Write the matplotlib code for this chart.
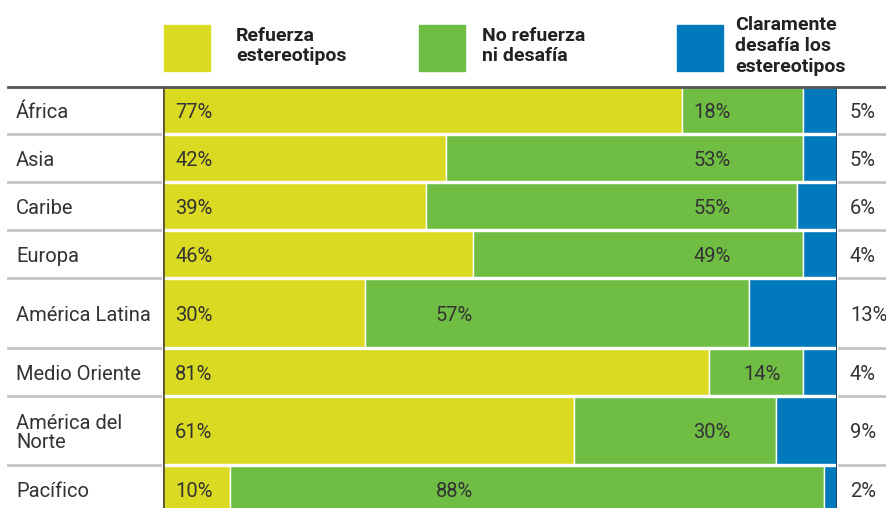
import matplotlib.pyplot as plt
from matplotlib import transforms

# data
regions = ['África', 'Asia', 'Caribe', 'Europa', 'América Latina',
           'Medio Oriente', 'América del\nNorte', 'Pacífico']
refuerza = [77, 42, 39, 46, 30, 81, 61, 10]
neutral = [18, 53, 55, 49, 57, 14, 30, 88]
desafia = [5, 5, 6, 4, 13, 4, 9, 2]
legend_labels = ['Refuerza\nestereotipos', 'No refuerza\nni desafía',
                 'Claramente\ndesafía los\nestereotipos']

# layout (row heights in pixels, where the green labels sit in %)
row_heights = [48, 48, 48, 48, 70, 48, 69, 48]
green_label_pos = [81.5, 81.5, 81.5, 81.5, 43.2, 88.9, 81.5, 43.2]

c_yel = '#d9da21'
c_grn = '#70bd44'
c_blu = '#007abc'
txt = '#333333'
W, H = 886, 508

plt.rcParams['font.family'] = ['Roboto', 'DejaVu Sans']

fig = plt.figure(figsize=(W / 100, H / 100), dpi=100)
ax = fig.add_axes([163 / W, 0, 674 / W, 1 - 86 / H])

tops = []
t = 0
for h in row_heights:
    tops.append(t)
    t += h
centers = [tp + h / 2 for tp, h in zip(tops, row_heights)]
bar_h = [h - 2 for h in row_heights]
left2 = [a for a in refuerza]
left3 = [a + b for a, b in zip(refuerza, neutral)]
# blue segment fills the rest of the row (rounded shares don't always add to 100)
rest = [100 - l for l in left3]

ax.barh(centers, refuerza, height=bar_h, color=c_yel, edgecolor='white', linewidth=1)
ax.barh(centers, neutral, left=left2, height=bar_h, color=c_grn, edgecolor='white', linewidth=1)
ax.barh(centers, rest, left=left3, height=bar_h, color=c_blu, edgecolor='white', linewidth=1)

ax.set_xlim(0, 100)
ax.set_ylim(H - 86, 0)
ax.axis('off')

ax.axvline(0, color='#5b5236', lw=2)
ax.axvline(100, color='#24496b', lw=1.5)

fx = transforms.blended_transform_factory(fig.transFigure, ax.transData)

# top rule
ax.plot([8 / W, 1], [0.5, 0.5], transform=fx, color='#555555', lw=2, clip_on=False)

for i, name in enumerate(regions):
    cy = centers[i] + 2.5
    ax.text(16 / W, cy, name, transform=fx, ha='left', va='center',
            fontsize=14.5, color=txt, linespacing=1.05)
    ax.text(1.8, cy, f'{refuerza[i]}%', ha='left', va='center',
            fontsize=14.5, color=txt)
    ax.text(green_label_pos[i], cy, f'{neutral[i]}%', ha='center', va='center',
            fontsize=14.5, color=txt)
    ax.text(850 / W, cy, f'{desafia[i]}%', transform=fx, ha='left', va='center',
            fontsize=14.5, color=txt, clip_on=False)
    if i > 0:
        yb = tops[i]
        ax.plot([8 / W, 160 / W], [yb, yb], transform=fx, color='#c3c3c3', lw=2, clip_on=False)
        ax.plot([839 / W, 1], [yb, yb], transform=fx, color='#c3c3c3', lw=2, clip_on=False)

# legend
sq_x = [164, 419, 677]
tx_x = [236, 482, 735]
for c, sx, tx, lab in zip([c_yel, c_grn, c_blu], sq_x, tx_x, legend_labels):
    fig.patches.append(plt.Rectangle((sx / W, 1 - 71 / H), 46 / W, 46 / H,
                                     transform=fig.transFigure, color=c))
    fig.text(tx / W, 1 - 46 / H, lab, ha='left', va='center', fontsize=14,
             fontweight='bold', color='#222222', linespacing=1.2)

fig.savefig('out.png', dpi=100)
